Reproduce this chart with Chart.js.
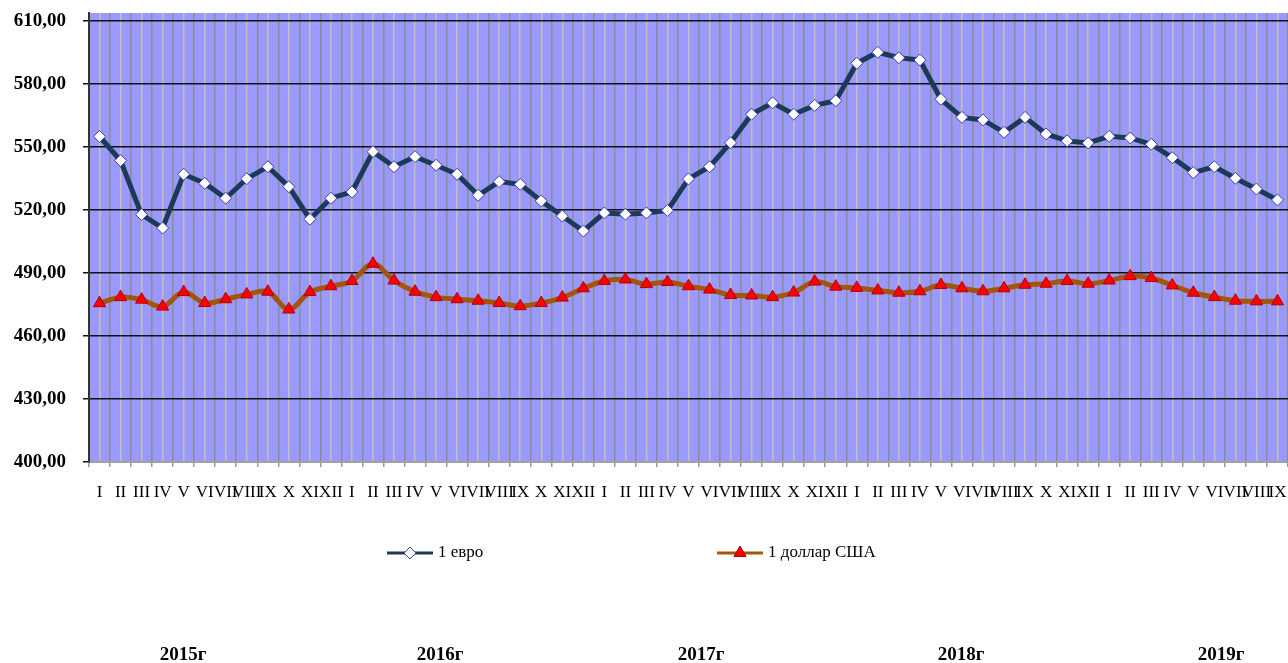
<!DOCTYPE html>
<html>
<head>
<meta charset="utf-8">
<script src="https://cdn.jsdelivr.net/npm/chart.js@4.4.0/dist/chart.umd.min.js"></script>
<style>
    html, body { margin: 0; padding: 0; background: #fff; }
</style>
</head>
<body>
<canvas id="myChart" width="1288" height="663"></canvas>
<script>
let meses = [
    'I', 'II', 'III', 'IV', 'V', 'VI', 'VII', 'VIII', 'IX', 'X', 'XI', 'XII',
    'I', 'II', 'III', 'IV', 'V', 'VI', 'VII', 'VIII', 'IX', 'X', 'XI', 'XII',
    'I', 'II', 'III', 'IV', 'V', 'VI', 'VII', 'VIII', 'IX', 'X', 'XI', 'XII',
    'I', 'II', 'III', 'IV', 'V', 'VI', 'VII', 'VIII', 'IX', 'X', 'XI', 'XII',
    'I', 'II', 'III', 'IV', 'V', 'VI', 'VII', 'VIII', 'IX'
];
let anios = ['2015г', '2016г', '2017г', '2018г', '2019г'];

let euro = [
    555.0, 543.5, 517.8, 511.4, 537.0, 532.7, 525.6, 534.9, 540.6, 531.1, 515.6, 525.6,
    528.6, 547.8, 540.6, 545.4, 541.3, 537.0, 527.0, 533.5, 532.2, 524.3, 517.1, 510.0,
    518.6, 518.0, 518.6, 519.8, 534.8, 540.6, 552.0, 565.6, 571.0, 565.6, 569.8, 572.0,
    589.9, 595.1, 592.5, 591.4, 572.7, 564.1, 562.9, 557.0, 564.1, 556.2, 552.9, 551.9,
    555.1, 554.3, 551.3, 544.9, 537.8, 540.6, 535.1, 530.0, 524.8
];
let dolar = [
    475.6, 478.5, 477.3, 474.0, 480.9, 475.7, 477.5, 479.8, 481.1, 472.6, 480.9, 483.7,
    486.2, 494.4, 486.4, 481.1, 478.5, 477.5, 476.8, 475.7, 474.2, 475.7, 478.3, 482.7,
    486.2, 486.9, 484.7, 485.7, 483.7, 482.1, 479.5, 479.3, 478.5, 480.7, 485.9, 483.5,
    482.9, 481.7, 480.6, 481.3, 484.3, 482.7, 481.3, 482.7, 484.4, 484.9, 486.2, 484.9,
    486.4, 488.5, 487.6, 484.1, 480.6, 478.5, 476.8, 476.5, 476.5
];
let ticksY = [400, 430, 460, 490, 520, 550, 580, 610];

let serif = '"Liberation Serif", "Times New Roman", serif';

// fondo lila del area del grafico
let fondo = {
    id: 'fondo',
    beforeDraw: (chart) => {
        let a = chart.chartArea;
        let ctx = chart.ctx;
        ctx.save();
        ctx.fillStyle = '#9999ff';
        ctx.fillRect(a.left, a.top, a.right - a.left, a.bottom - a.top);
        ctx.restore();
    }
};

let marcador = function (ctx, ds, x, y) {
    let r = ds.pointRadius;
    ctx.beginPath();
    if (ds.pointStyle === 'triangle') {
        ctx.moveTo(x, y - r);
        ctx.lineTo(x + r * 0.866, y + r / 2);
        ctx.lineTo(x - r * 0.866, y + r / 2);
    } else {
        ctx.moveTo(x, y - r);
        ctx.lineTo(x + r, y);
        ctx.lineTo(x, y + r);
        ctx.lineTo(x - r, y);
    }
    ctx.closePath();
    ctx.fillStyle = ds.pointBackgroundColor;
    ctx.fill();
    ctx.lineWidth = 1;
    ctx.strokeStyle = ds.pointBorderColor;
    ctx.stroke();
};

// leyenda y años debajo del eje
let extras = {
    id: 'extras',
    afterDraw: (chart) => {
        let ctx = chart.ctx;
        ctx.save();
        let posLeyenda = [387, 717];
        chart.data.datasets.forEach((ds, i) => {
            let x = posLeyenda[i];
            let y = 553;
            ctx.strokeStyle = ds.borderColor;
            ctx.lineWidth = 3;
            ctx.beginPath();
            ctx.moveTo(x, y);
            ctx.lineTo(x + 46, y);
            ctx.stroke();
            marcador(ctx, ds, x + 23, y);
            ctx.fillStyle = '#000';
            ctx.font = '17px ' + serif;
            ctx.textAlign = 'left';
            ctx.textBaseline = 'middle';
            ctx.fillText(ds.label, x + 51, y);
        });
        let posAnios = [183, 440, 701, 961, 1221];
        ctx.font = 'bold 19px ' + serif;
        ctx.textAlign = 'center';
        anios.forEach((t, i) => {
            ctx.fillText(t, posAnios[i], 655);
        });
        ctx.restore();
    }
};

let ctx = document.getElementById('myChart').getContext('2d');

let chart = new Chart(ctx, {
    type: 'line',
    data: {
        labels: meses,
        datasets: [{
            label: '1 евро',
            data: euro,
            borderColor: '#1b3a58',
            borderWidth: 5,
            tension: 0,
            pointStyle: 'rectRot',
            pointRadius: 6,
            pointBackgroundColor: '#ffffff',
            pointBorderColor: '#3b3ba8',
            pointBorderWidth: 1
        }, {
            label: '1 доллар США',
            data: dolar,
            borderColor: '#a5540e',
            borderWidth: 5,
            tension: 0.35,
            pointStyle: 'triangle',
            pointRadius: 7,
            pointBackgroundColor: '#ff0000',
            pointBorderColor: '#b00000',
            pointBorderWidth: 1
        }]
    },
    options: {
        responsive: false,
        animation: false,
        layout: { autoPadding: false, padding: { top: 13, right: 0, bottom: 161, left: 0 } },
        plugins: {
            legend: { display: false },
            tooltip: { enabled: false }
        },
        scales: {
            x: {
                offset: true,
                grid: { offset: true, color: '#8c8c8c', lineWidth: 1.5, tickLength: 5, tickColor: '#999999' },
                border: { color: '#a0a0a0', width: 2 },
                ticks: {
                    // lineHeight grande para bajar las etiquetas
                    autoSkip: false, maxRotation: 0, minRotation: 0, padding: 0,
                    color: '#000', font: { family: serif, size: 17, lineHeight: 3.05 }
                },
                afterFit: (s) => { s.height = 40; s.paddingLeft = 0; s.paddingRight = 0; }
            },
            x2: {
                type: 'category',
                position: 'bottom',
                offset: true,
                grid: { offset: false, color: '#c8c0a8', lineWidth: 1.5, drawTicks: false },
                border: { display: false },
                ticks: { display: false },
                afterFit: (s) => { s.height = 0; s.paddingLeft = 0; s.paddingRight = 0; }
            },
            y: {
                min: 400,
                max: 613.8,
                afterBuildTicks: (s) => { s.ticks = ticksY.map(v => ({ value: v })); },
                afterFit: (s) => { s.width = 89; s.paddingTop = 0; s.paddingBottom = 0; },
                grid: { color: '#111111', lineWidth: 1.5, tickLength: 6, tickColor: '#111111' },
                border: { color: '#333333', width: 2 },
                ticks: {
                    padding: 17, color: '#000',
                    font: { family: serif, size: 19, weight: 'bold' },
                    callback: (v) => v.toFixed(2).replace('.', ',')
                }
            }
        }
    },
    plugins: [fondo, extras]
});
</script>
</body>
</html>
